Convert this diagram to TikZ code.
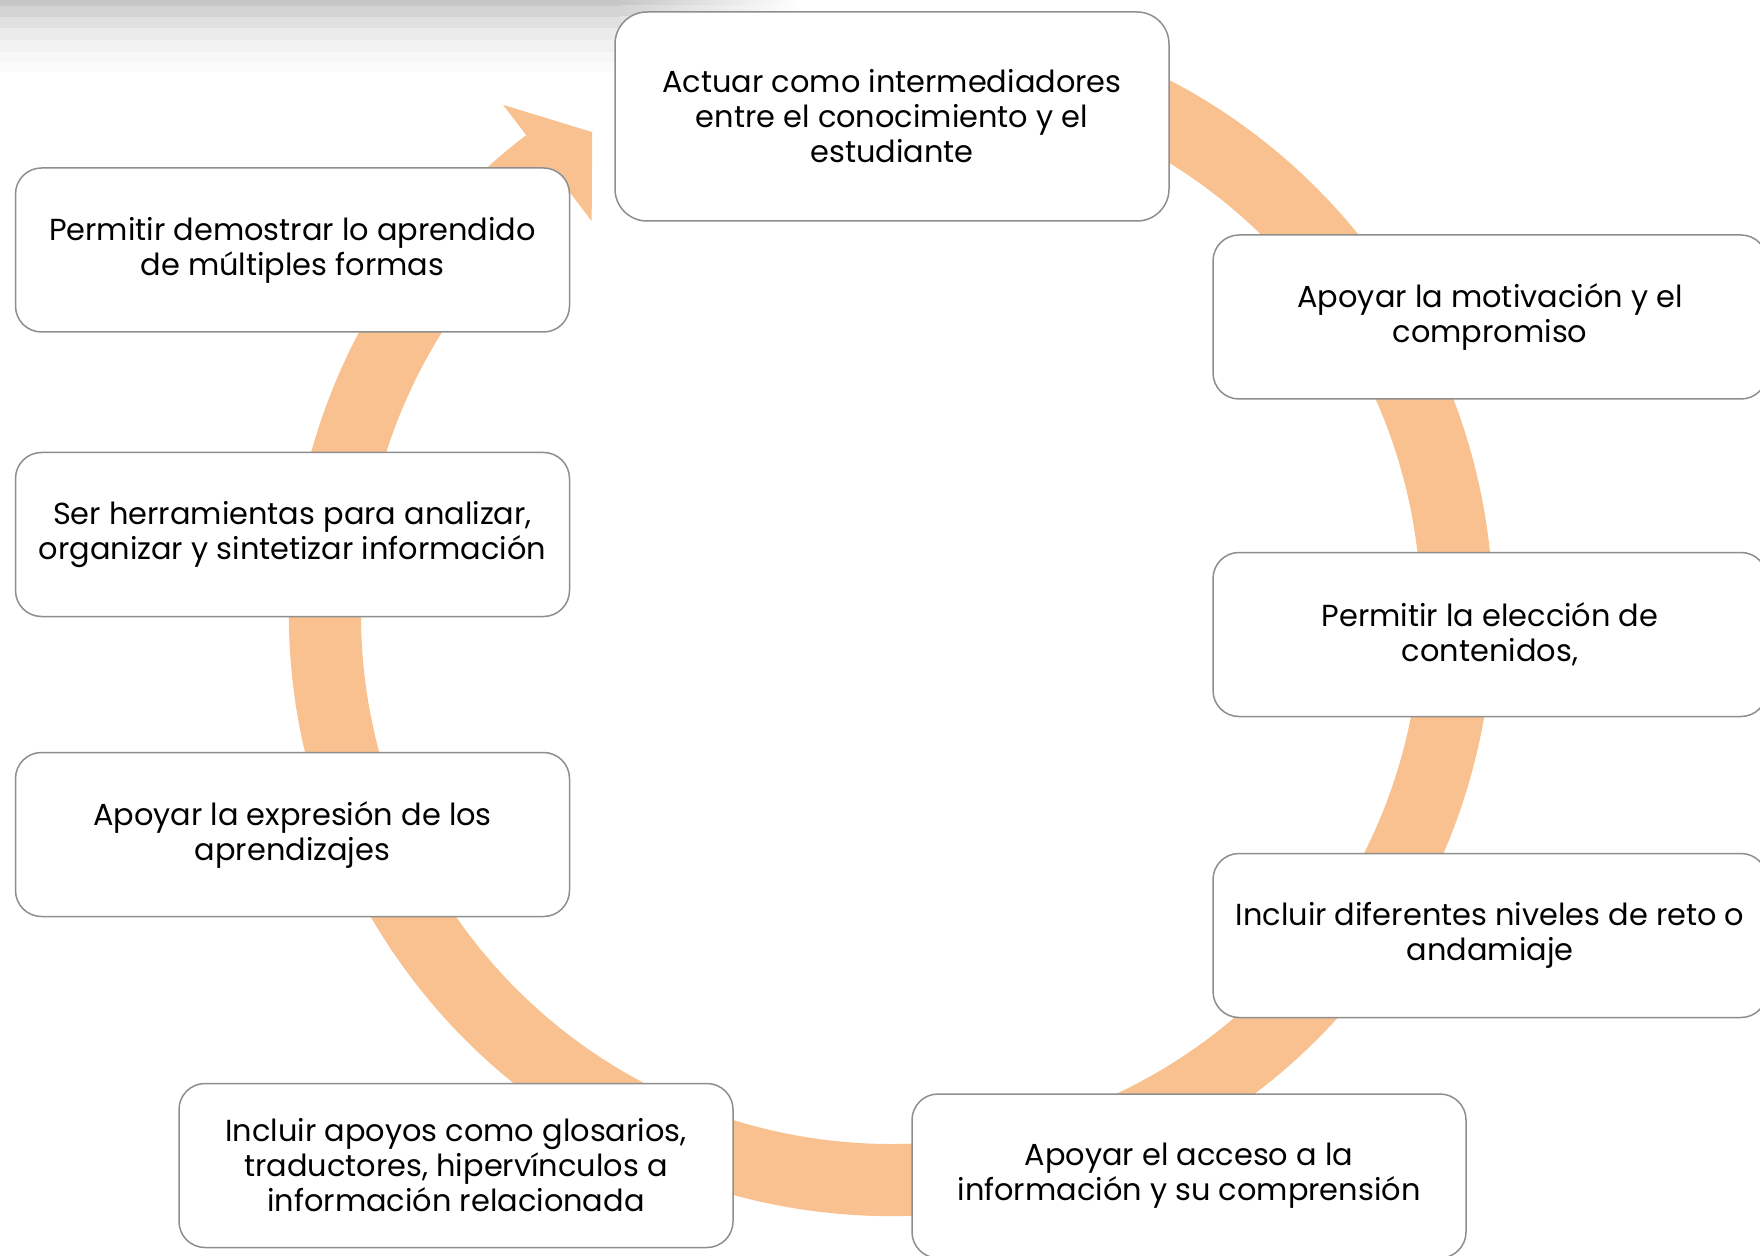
\documentclass[tikz,border=0pt]{standalone}
\usepackage{fontspec}
\setmainfont{Poppins}
\usepackage{tikz}
\usetikzlibrary{calc}
\definecolor{ringorange}{HTML}{F8C18F}
\definecolor{boxgray}{HTML}{8E8E8E}
\tikzstyle{every node}=[font=\fontsize{15.2}{17.5}\selectfont]
\tikzstyle{box}=[draw=boxgray, line width=0.75pt, fill=white, rounded corners=13pt,
    minimum width=277pt, minimum height=82pt, align=center, inner sep=2pt]
\tikzstyle{ring}=[fill=ringorange]

\begin{document}
\begin{tikzpicture}[x=0.5pt, y=0.5pt]
        \useasboundingbox (0,0) rectangle (1760,1255);
        \clip (0,0) rectangle (1760,1255);
        \fill[white] (0,0) rectangle (1760,1255);
        \foreach \ya/\yb/\gr in {1249/1255/22, 1238/1249/17, 1227/1238/12, 1215/1227/8,
            1203/1215/5, 1193/1203/3, 1183/1193/1.5}{
            \fill[black!\gr] (0,\ya) rectangle (620,\yb);
            \shade[left color=black!\gr, right color=white] (620,\ya) rectangle (800,\yb);
        }
        \coordinate (O) at (891, 641);
        \fill[ring, shift={(O)}] (75:602) arc[start angle=75, end angle=-232.7, radius=602]
            -- (-232.7:530) arc[start angle=-232.7, end angle=75, radius=530] -- cycle;
        \fill[ring, shift={(O)}] (127.3:640) -- (121.8:567) -- (127.3:494) -- cycle;
        \node[box, minimum height=104.5pt, rounded corners=16pt] (act) at (892, 1138.5)
            {Actuar como intermediadores\\entre el conocimiento y el\\estudiante};
        \node[box] (mot) at (1490, 938) {Apoyar la motivación y el\\compromiso};
        \node[box] (elec) at (1490, 620.5) {Permitir la elección de\\contenidos,};
        \node[box] (niv) at (1490, 319.5) {Incluir diferentes niveles de reto o\\andamiaje};
        \node[box] (acc) at (1189, 79) {Apoyar el acceso a la\\información y su comprensión};
        \node[box] (apo) at (456, 89.5)
            {Incluir apoyos como glosarios,\\traductores, hipervínculos a\\información relacionada};
        \node[box] (exp) at (292.5, 420.5) {Apoyar la expresión de los\\aprendizajes};
        \node[box] (her) at (292.5, 720.5)
            {Ser herramientas para analizar,\\organizar y sintetizar información};
        \node[box] (dem) at (292.5, 1005) {Permitir demostrar lo aprendido\\de múltiples formas};
;
    \end{tikzpicture}
\end{document}
